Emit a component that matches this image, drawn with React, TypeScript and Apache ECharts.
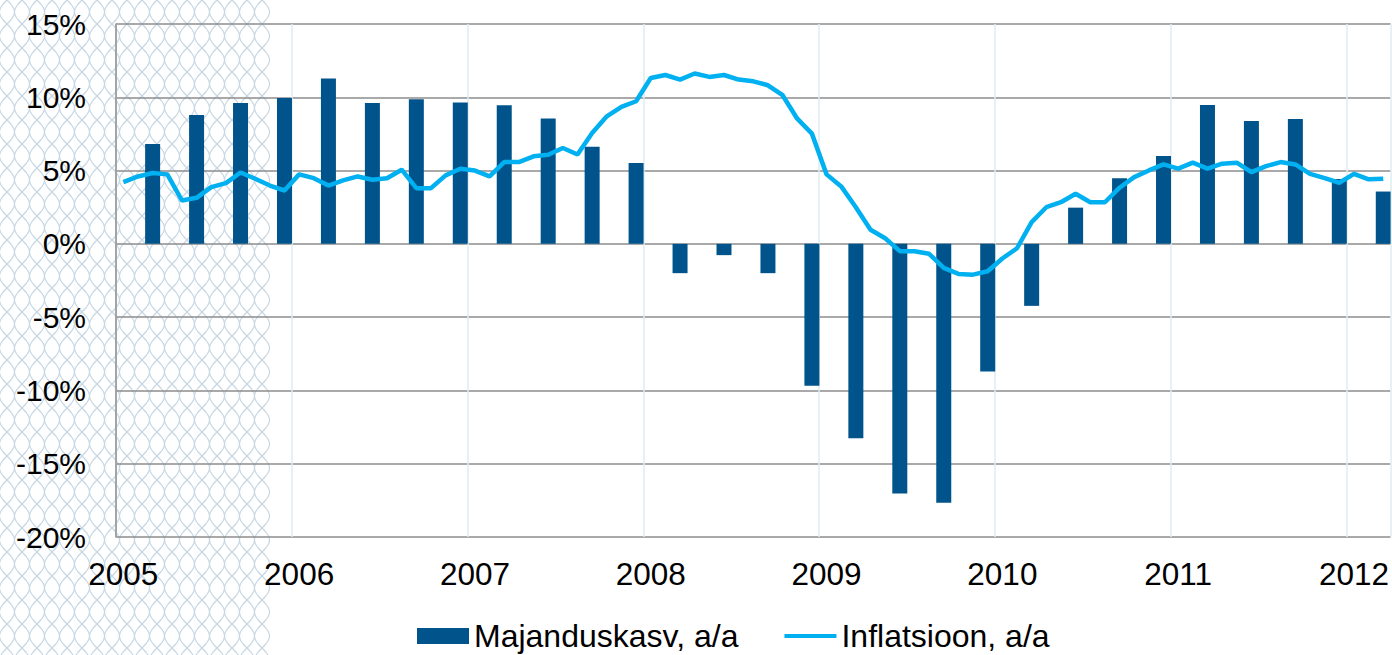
import React, { useEffect, useRef } from "react";
import * as echarts from "echarts";

// ---- data ----
const years = [2005, 2006, 2007, 2008, 2009, 2010, 2011, 2012];
const lastYearMonths = 3; // data ends March 2012

// quarterly GDP growth, y/y (%), 2005Q1 .. 2012Q1
const growthQuarterly = [
  6.82, 8.79, 9.61, 9.95,
  11.29, 9.61, 9.86, 9.65,
  9.45, 8.56, 6.63, 5.52,
  -2.0, -0.77, -2.0, -9.68,
  -13.27, -17.04, -17.66, -8.71,
  -4.23, 2.47, 4.47, 6.0,
  9.48, 8.38, 8.52, 4.43,
  3.57,
];

// monthly inflation, y/y (%), 2005-01 .. 2012-03
const inflation2005 = [4.21, 4.6, 4.83, 4.74, 2.96, 3.14, 3.87, 4.14, 4.87, 4.44, 3.98, 3.64];
const inflation2006 = [4.74, 4.48, 3.98, 4.33, 4.6, 4.37, 4.48, 5.06, 3.8, 3.8, 4.67, 5.12];
const inflation2007 = [5.0, 4.6, 5.58, 5.58, 5.97, 6.08, 6.54, 6.1, 7.56, 8.7, 9.34, 9.73];
const inflation2008 = [11.32, 11.52, 11.21, 11.62, 11.39, 11.52, 11.21, 11.09, 10.82, 10.14, 8.54, 7.52];
const inflation2009 = [4.74, 3.92, 2.5, 0.96, 0.38, -0.5, -0.5, -0.68, -1.64, -2.05, -2.1, -1.87];
const inflation2010 = [-1.0, -0.3, 1.48, 2.5, 2.84, 3.42, 2.84, 2.84, 3.83, 4.55, 5.01, 5.42];
const inflation2011 = [5.13, 5.54, 5.13, 5.47, 5.54, 4.89, 5.3, 5.58, 5.42, 4.78, 4.48, 4.17];
const inflation2012 = [4.78, 4.4, 4.44];

const seriesNames = ["Majanduskasv, a/a", "Inflatsioon, a/a"];
const yTicks = { min: -20, max: 15, interval: 5 };

// ---- derived ----
const months: string[] = [];
years.forEach((y, i) => {
  const n = i === years.length - 1 ? lastYearMonths : 12;
  for (let m = 1; m <= n; m++) months.push(`${y}-${m < 10 ? "0" + m : m}`);
});
const inflation = [
  ...inflation2005, ...inflation2006, ...inflation2007, ...inflation2008,
  ...inflation2009, ...inflation2010, ...inflation2011, ...inflation2012,
];
const growthMonthly: (number | null)[] = months.map(() => null);
growthQuarterly.forEach((v, q) => {
  growthMonthly[q * 3 + 2] = v;
});

// decorative wavy background pattern (left side)
function buildPattern() {
  const els: any[] = [];
  const H = 655;
  for (let k = 0; k < 18; k++) {
    const xc = 7 + 15 * k;
    for (const sgn of [1, -1]) {
      const pts: number[][] = [];
      for (let y = -4; y <= H + 4; y += 2) {
        pts.push([xc + sgn * 7.5 * Math.sin((2 * Math.PI * y) / 48), y]);
      }
      els.push({
        type: "polyline",
        z: -10,
        silent: true,
        shape: { points: pts },
        style: { stroke: "#c6d7e4", lineWidth: 1.2, fill: null },
      });
    }
  }
  return els;
}

const FONT = "'Liberation Sans', Arial, sans-serif";

export default function App() {
  const ref = useRef<HTMLDivElement>(null);
  useEffect(() => {
    if (!ref.current) return;
    const chart = echarts.init(ref.current, null, { renderer: "svg" });
    chart.setOption({
      animation: false,
      backgroundColor: "#ffffff",
      textStyle: { fontFamily: FONT },
      graphic: buildPattern(),
      grid: { left: 116, right: 0, top: 24, bottom: 118, containLabel: false },
      legend: {
        left: 417,
        top: 620,
        padding: 0,
        itemWidth: 52,
        itemHeight: 16,
        itemGap: 46,
        textStyle: { fontSize: 32, color: "#000", fontFamily: FONT },
        data: [
          { name: seriesNames[0], icon: "rect" },
          { name: seriesNames[1], icon: "path://M0,0H55V4H0Z" },
        ],
      },
      xAxis: {
        type: "category",
        data: months,
        boundaryGap: true,
        axisLine: { show: false, onZero: false },
        axisTick: { show: false },
        axisLabel: {
          interval: 11,
          margin: 21,
          fontSize: 31.5,
          color: "#000",
          fontFamily: FONT,
          formatter: (v: string) => v.slice(0, 4),
        },
        splitLine: {
          show: true,
          interval: 11,
          lineStyle: { color: "#dcecf1", width: 1.5 },
        },
      },
      yAxis: {
        type: "value",
        min: yTicks.min,
        max: yTicks.max,
        interval: yTicks.interval,
        axisLine: { show: true, lineStyle: { color: "#8c8c8c", width: 1.5 } },
        axisTick: { show: false },
        axisLabel: {
          margin: 30,
          fontSize: 30,
          color: "#000",
          fontFamily: FONT,
          formatter: (v: number) => `${v}%`,
        },
        splitLine: { show: true, lineStyle: { color: "#8c8c8c", width: 1.5 } },
      },
      series: [
        {
          name: seriesNames[0],
          type: "bar",
          data: growthMonthly,
          barWidth: 15,
          itemStyle: { color: "#00548b" },
          z: 2,
        },
        {
          name: seriesNames[1],
          type: "line",
          data: inflation,
          symbol: "none",
          showSymbol: false,
          lineStyle: { color: "#00b0f0", width: 4.5 },
          itemStyle: { color: "#00b0f0" },
          z: 3,
        },
      ],
    });
    return () => chart.dispose();
  }, []);
  return (
    <div
      ref={ref}
      style={{ position: "fixed", left: 0, top: 0, width: 1392, height: 655 }}
    />
  );
}
